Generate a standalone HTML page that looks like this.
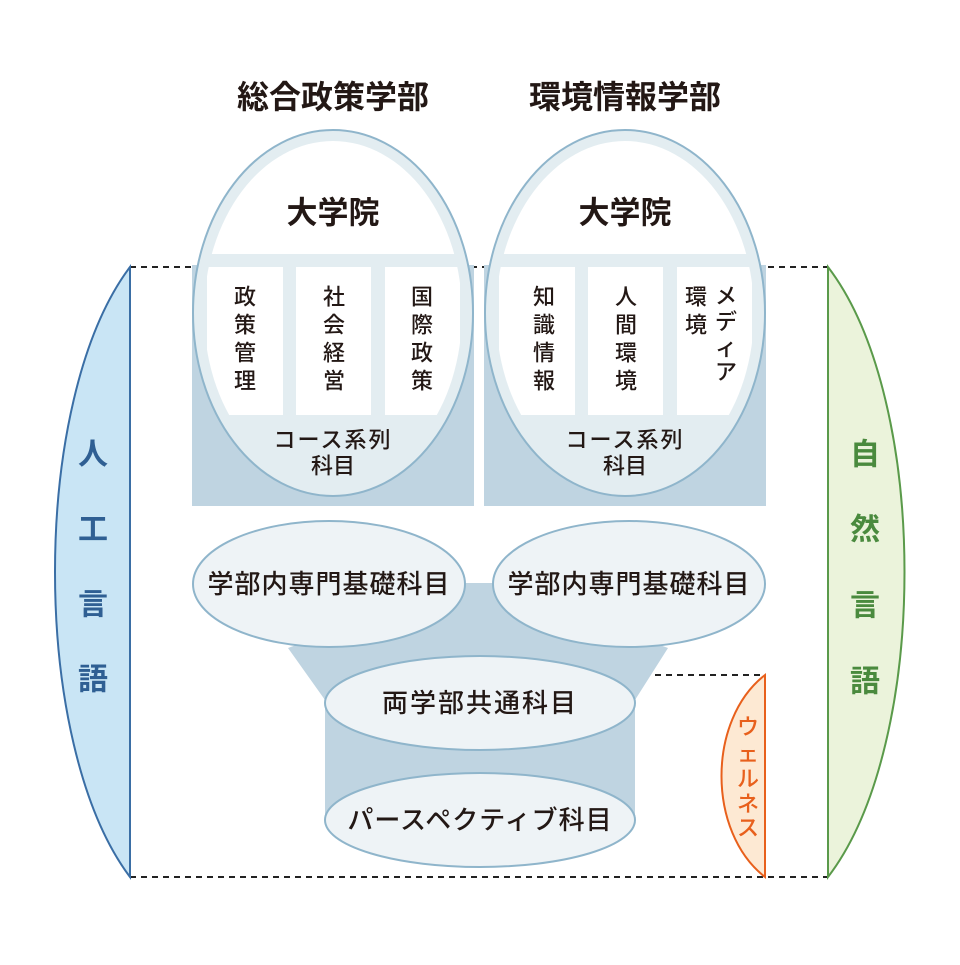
<!DOCTYPE html>
<html><head><meta charset="utf-8"><style>
html,body{margin:0;padding:0;background:#fff}
svg text{font-family:"Liberation Sans","Noto Sans CJK JP",sans-serif}
</style></head><body>
<svg width="960" height="960" viewBox="0 0 960 960" xmlns="http://www.w3.org/2000/svg">
<rect width="960" height="960" fill="#fff"/>
<g stroke="#222" stroke-width="2" stroke-dasharray="6,5" fill="none">
<line x1="130" y1="267" x2="828" y2="267"/>
<line x1="130" y1="877" x2="828" y2="877"/>
<line x1="655" y1="675" x2="765" y2="675"/>
</g>
<path d="M130 267 C 30 400, 30 744, 130 877 Z" fill="#c9e5f5" stroke="#3a6ea5" stroke-width="2"/>
<path d="M828 267 C 930 400, 930 744, 828 877 Z" fill="#ebf3db" stroke="#5a9a4a" stroke-width="2"/>
<path d="M765 675 C 707 720, 707 832, 765 877 Z" fill="#fde9d3" stroke="#e8601c" stroke-width="2"/>
<g font-size="30" font-weight="bold" fill="#2f5f93" text-anchor="middle" dominant-baseline="central">
<text x="93" y="455">人</text><text x="93" y="530">工</text><text x="93" y="605">言</text><text x="93" y="680">語</text>
</g>
<g font-size="30" font-weight="bold" fill="#4a8a3e" text-anchor="middle" dominant-baseline="central">
<text x="865" y="455">自</text><text x="865" y="530">然</text><text x="865" y="606">言</text><text x="865" y="682">語</text>
</g>
<g font-size="22" font-weight="500" fill="#e8601c" text-anchor="middle" dominant-baseline="central">
<text x="748" y="727">ウ</text><text x="748" y="754">ェ</text><text x="748" y="779">ル</text><text x="748" y="804">ネ</text><text x="748" y="828">ス</text>
</g>
<g font-size="32" font-weight="bold" fill="#231815" text-anchor="middle" dominant-baseline="central">
<text x="333" y="97">総合政策学部</text>
<text x="625" y="97">環境情報学部</text>
</g>
<defs>
<clipPath id="cl"><ellipse cx="333" cy="313" rx="129" ry="172"/></clipPath>
<clipPath id="cr"><ellipse cx="625" cy="313" rx="129" ry="172"/></clipPath>
</defs>
<rect x="192" y="265" width="282" height="241" fill="#bfd4e1"/>
<ellipse cx="333" cy="313" rx="140" ry="183" fill="#e3edf1" stroke="#8fb5cb" stroke-width="2"/>
<g clip-path="url(#cl)" fill="#fff">
<rect x="150" y="100" width="370" height="154"/>
<rect x="207" y="267" width="76" height="148"/>
<rect x="296" y="267" width="75" height="148"/>
<rect x="385" y="267" width="75" height="148"/>
</g>
<rect x="484" y="265" width="282" height="241" fill="#bfd4e1"/>
<ellipse cx="625" cy="313" rx="140" ry="183" fill="#e3edf1" stroke="#8fb5cb" stroke-width="2"/>
<g clip-path="url(#cr)" fill="#fff">
<rect x="440" y="100" width="370" height="154"/>
<rect x="499" y="267" width="76" height="148"/>
<rect x="588" y="267" width="75" height="148"/>
<rect x="677" y="267" width="75" height="148"/>
</g>
<g fill="#231815" text-anchor="middle" dominant-baseline="central">
<text x="333" y="213" font-size="31" font-weight="bold">大学院</text>
<text x="625" y="213" font-size="31" font-weight="bold">大学院</text>
<g font-size="22" font-weight="500">
<text x="333" y="440" letter-spacing="2">コース系列</text><text x="333" y="466">科目</text>
<text x="625" y="440" letter-spacing="2">コース系列</text><text x="625" y="466">科目</text>
<text x="245" y="297">政</text><text x="245" y="325">策</text><text x="245" y="353">管</text><text x="245" y="381">理</text>
<text x="334" y="297">社</text><text x="334" y="325">会</text><text x="334" y="353">経</text><text x="334" y="381">営</text>
<text x="422" y="297">国</text><text x="422" y="325">際</text><text x="422" y="353">政</text><text x="422" y="381">策</text>
<text x="544" y="297">知</text><text x="544" y="325">識</text><text x="544" y="353">情</text><text x="544" y="381">報</text>
<text x="626" y="297">人</text><text x="626" y="325">間</text><text x="626" y="353">環</text><text x="626" y="381">境</text>
<text x="696" y="297">環</text><text x="696" y="325">境</text>
<text x="726" y="296">メ</text><text x="726" y="322">デ</text><text x="726" y="348">ィ</text><text x="726" y="372">ア</text>
</g>
</g>
<polygon points="465,583 493,583 668,648 635,700 635,820 325,820 325,700 288,648" fill="#bfd4e1"/>
<g fill="#eef3f6" stroke="#8fb5cb" stroke-width="2">
<ellipse cx="329" cy="584" rx="136" ry="63"/>
<ellipse cx="629" cy="584" rx="136" ry="63"/>
<ellipse cx="480" cy="703" rx="155" ry="47"/>
<ellipse cx="480" cy="820" rx="155" ry="47"/>
</g>
<g fill="#231815" text-anchor="middle" dominant-baseline="central" font-size="26" font-weight="500">
<text x="329" y="584" letter-spacing="1">学部内専門基礎科目</text>
<text x="629" y="584" letter-spacing="1">学部内専門基礎科目</text>
<text x="480" y="703" letter-spacing="2">両学部共通科目</text>
<text x="480" y="820" letter-spacing="1">パースペクティブ科目</text>
</g>
</svg>
</body></html>
